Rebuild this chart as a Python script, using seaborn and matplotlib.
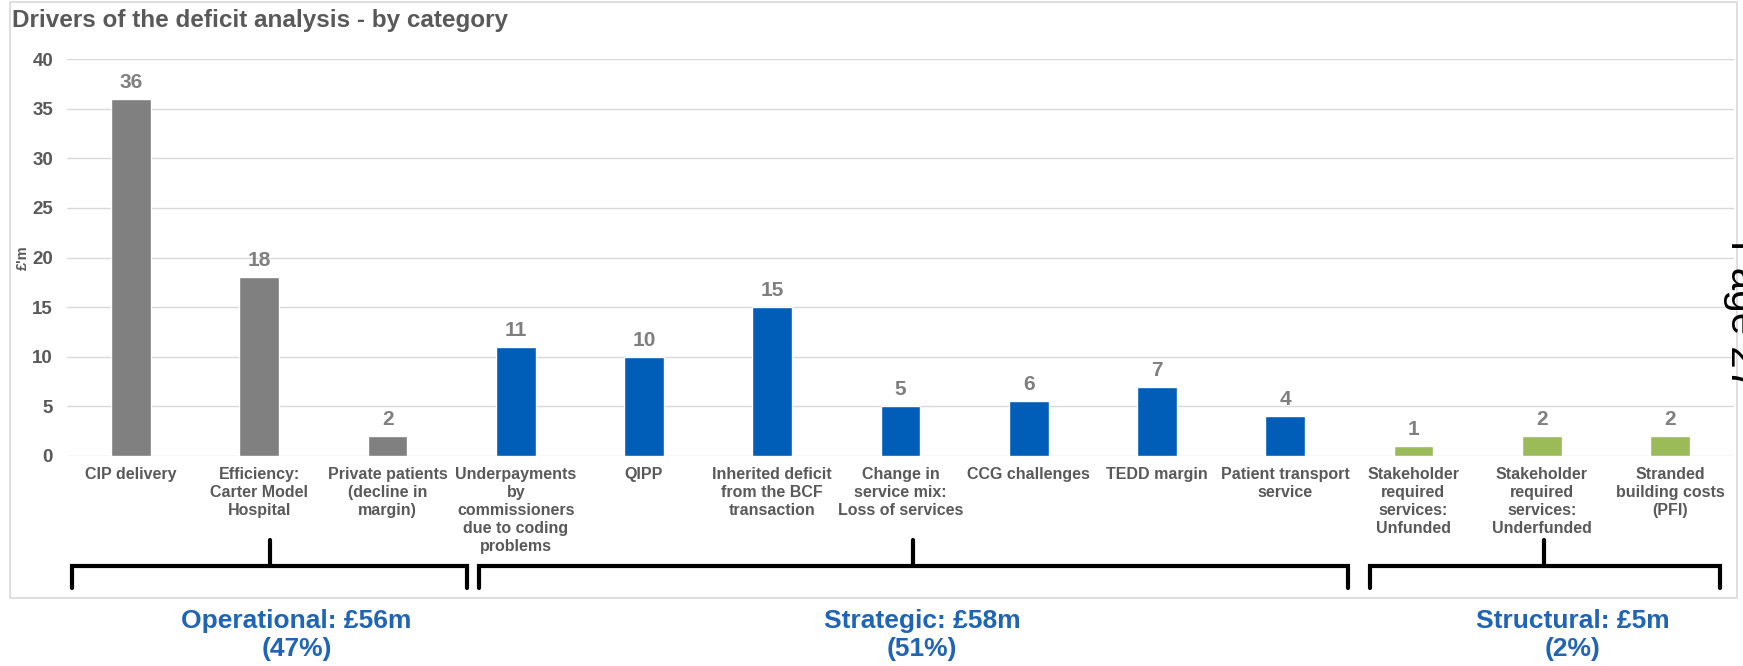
import numpy as np
import pandas as pd
import matplotlib
matplotlib.use('Agg')
import matplotlib.pyplot as plt
import matplotlib.transforms as mtransforms
from matplotlib.patches import Rectangle
import seaborn as sns

# Chart data
categories = ['CIP delivery', 'Efficiency:\nCarter Model\nHospital', 'Private patients\n(decline in\nmargin)',
              'Underpayments\nby\ncommissioners\ndue to coding\nproblems', 'QIPP',
              'Inherited deficit\nfrom the BCF\ntransaction', 'Change in\nservice mix:\nLoss of services',
              'CCG challenges', 'TEDD margin', 'Patient transport\nservice',
              'Stakeholder\nrequired\nservices:\nUnfunded', 'Stakeholder\nrequired\nservices:\nUnderfunded',
              'Stranded\nbuilding costs\n(PFI)']
values = [36, 18, 2, 11, 10, 15, 5, 5.5, 7, 4, 1, 2, 2]
groups = ['Operational'] * 3 + ['Strategic'] * 7 + ['Structural'] * 3
group_labels = ['Operational: £56m\n(47%)', 'Strategic: £58m\n(51%)', 'Structural: £5m\n(2%)']
group_colors = {'Operational': '#808080', 'Strategic': '#005EB8', 'Structural': '#9BBB59'}
y_ticks = [0, 5, 10, 15, 20, 25, 30, 35, 40]

df = pd.DataFrame({'category': categories, 'value': values, 'group': groups})

sns.set_theme(style='white')
plt.rcParams['font.family'] = ['Liberation Sans', 'DejaVu Sans']
grey_txt = '#595959'

W, H = 1743, 666
fig = plt.figure(figsize=(W / 100, H / 100), dpi=100)
ax = fig.add_axes([67 / W, 1 - 456 / H, (1734 - 67) / W, (456 - 59) / H])

sns.barplot(data=df, x='category', y='value', hue='group', palette=group_colors,
            dodge=False, width=0.31, saturation=1, legend=False, ax=ax)

for c in ax.containers:
    ax.bar_label(c, fmt='{:.0f}', padding=5, fontsize=15, fontweight='bold', color='#7F7F7F')

ax.set_ylim(0, 40)
ax.set_xlim(-0.5, len(categories) - 0.5)
ax.set_yticks(y_ticks)
ax.yaxis.grid(True, color='#D9D9D9', lw=1)
ax.set_axisbelow(True)
for s in ax.spines.values():
    s.set_visible(False)
ax.tick_params(axis='both', length=0)
ax.tick_params(axis='y', pad=10, labelsize=13.5, labelcolor=grey_txt)
ax.tick_params(axis='x', pad=8, labelsize=11.5, labelcolor=grey_txt)
for t in ax.get_yticklabels():
    t.set_fontweight('bold')
for t in ax.get_xticklabels():
    t.set_fontweight('bold')
    t.set_linespacing(1.25)
ax.set_xlabel('')
ax.set_ylabel('')

# outer frame
fig.patches.append(Rectangle((10 / W, 1 - 598 / H), 1727 / W, 596 / H, transform=fig.transFigure,
                             fill=False, edgecolor='#D9D9D9', lw=1.2))

fig.text(12 / W, 1 - 21 / H, 'Drivers of the deficit analysis - by category', fontsize=17.5,
         fontweight='bold', color=grey_txt, va='center', ha='left')
fig.text(23 / W, 1 - 258 / H, "£'m", rotation=90, fontsize=10.5, fontweight='bold', color=grey_txt,
         va='center', ha='center')

# group brackets below the axis
trans = mtransforms.blended_transform_factory(ax.transData, fig.transFigure)
spans = [(-0.46, 2.62, 1.08), (2.71, 9.49, 6.1), (9.66, 12.39, 11.02)]
label_x = [1.29, 6.17, 11.24]
y_top = 1 - 566 / H
y_end = 1 - 588 / H
y_tick = 1 - 540 / H
for (x0, x1, xm), lbl, lx in zip(spans, group_labels, label_x):
    ax.plot([x0, x0, x1, x1], [y_end, y_top, y_top, y_end], transform=trans, color='black',
            lw=3, clip_on=False, solid_joinstyle='miter')
    ax.plot([xm, xm], [y_top, y_tick], transform=trans, color='black', lw=3, clip_on=False)
    ax.text(lx, 1 - 635 / H, lbl, transform=trans, ha='center', va='center', fontsize=19,
            fontweight='bold', color='#1F64B5', linespacing=1.2)

# clipped page number at right edge
fig.text(1723 / W, 1 - 315 / H, 'Page 27', rotation=-90, fontsize=29, color='black',
         ha='left', va='center')

fig.savefig('out.png', dpi=100)
